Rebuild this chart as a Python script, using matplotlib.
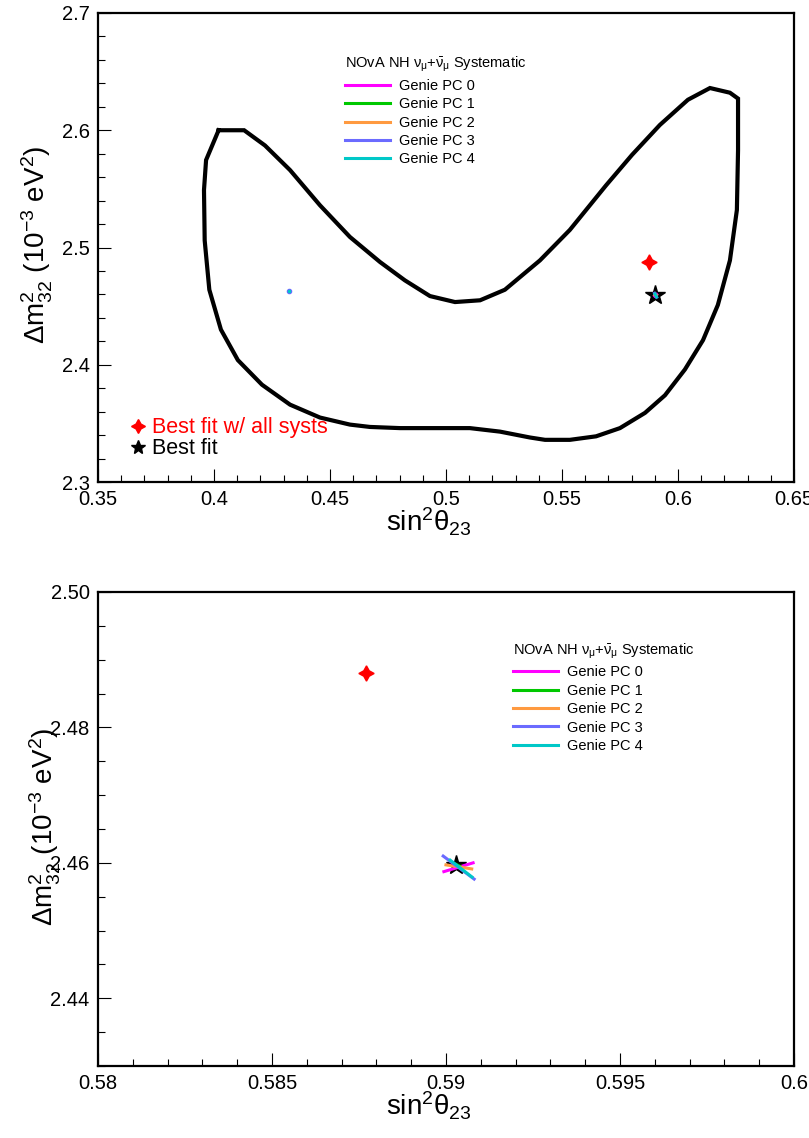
import matplotlib
matplotlib.use("Agg")
import matplotlib.pyplot as plt
from matplotlib.lines import Line2D
from matplotlib.ticker import MultipleLocator, FormatStrFormatter, FuncFormatter

plt.rcParams['font.family'] = ['Liberation Sans', 'DejaVu Sans']
plt.rcParams['mathtext.fontset'] = 'custom'
plt.rcParams['mathtext.rm'] = 'Liberation Sans'
plt.rcParams['mathtext.it'] = 'Liberation Sans'
plt.rcParams['mathtext.bf'] = 'Liberation Sans:bold'

# 90% contour, all systematics
contour_x = [0.402, 0.413, 0.422, 0.4328, 0.4457, 0.4586, 0.4716, 0.4823, 0.4931,
             0.5039, 0.5147, 0.5254, 0.5405, 0.5534, 0.569, 0.5802, 0.5922, 0.6043,
             0.6138, 0.6224, 0.6259, 0.6259, 0.6254, 0.6224, 0.6172, 0.6108, 0.603,
             0.5944, 0.5858, 0.575, 0.5647, 0.5534, 0.5427, 0.5362, 0.5233, 0.5103,
             0.5, 0.4802, 0.4672, 0.4586, 0.4457, 0.4328, 0.4207, 0.4103, 0.403,
             0.398, 0.396, 0.3957, 0.3966, 0.402]
contour_y = [2.600, 2.600, 2.587, 2.566, 2.536, 2.509, 2.4876, 2.472, 2.4586,
             2.4535, 2.455, 2.464, 2.489, 2.515, 2.553, 2.579, 2.6045, 2.626,
             2.636, 2.632, 2.627, 2.583, 2.532, 2.489, 2.451, 2.421, 2.396,
             2.374, 2.359, 2.346, 2.339, 2.336, 2.336, 2.338, 2.343, 2.346,
             2.346, 2.346, 2.347, 2.349, 2.355, 2.366, 2.383, 2.404, 2.430,
             2.464, 2.506, 2.549, 2.5746, 2.600]

best_fit_x, best_fit_y = 0.5903, 2.4597
syst_fit_x, syst_fit_y = 0.5877, 2.4880

# shifted best fits, -1 sigma to +1 sigma, per Genie PC
pc_labels = ['Genie PC 0', 'Genie PC 1', 'Genie PC 2', 'Genie PC 3', 'Genie PC 4']
pc_colors = ['#ff00ff', '#00c800', '#ff9a40', '#6b6bff', '#00c8c8']
pc_x = [[0.58994, 0.59078], [0.59028, 0.59040], [0.59000, 0.59074],
        [0.58992, 0.59081], [0.59012, 0.59075]]
pc_y = [[2.4587, 2.4600], [2.4598, 2.4595], [2.4597, 2.4591],
        [2.4610, 2.4576], [2.4604, 2.4579]]

# stray point from PC 3/4 in the other octant
stray_x, stray_y = 0.4323, 2.4625

legend_title = r'NOvA NH $\nu_{\mu}$+$\bar{\nu}_{\mu}$ Systematic'
xlabel = r'sin$^{2}$$\theta_{23}$'
ylabel = r'$\Delta$m$^{2}_{32}$ (10$^{-3}$ eV$^{2}$)'


def style_axes(ax):
    for s in ax.spines.values():
        s.set_linewidth(1.6)
    ax.tick_params(which='both', direction='in', top=False, right=False,
                   labelsize=14.5, width=0.8)
    ax.tick_params(which='major', length=9.5, pad=6)
    ax.tick_params(which='minor', length=5)
    ax.set_xlabel(xlabel, fontsize=20)
    ax.set_ylabel(ylabel, fontsize=20)


def draw(ax, legend_pos, with_fit_legend):
    ax.plot(contour_x, contour_y, color='black', lw=3, solid_joinstyle='miter')
    ax.plot(syst_fit_x, syst_fit_y, marker=(4, 1, 0), color='red', ms=11, ls='none')
    ax.plot(best_fit_x, best_fit_y, marker='*', color='black', ms=15, ls='none')
    for i in range(len(pc_labels)):
        ax.plot(pc_x[i], pc_y[i], color=pc_colors[i], lw=2.2, label=pc_labels[i])
    ax.plot(stray_x, stray_y, marker='o', color=pc_colors[3], ms=3, ls='none')
    ax.plot(stray_x, stray_y, marker='o', color=pc_colors[4], ms=1.5, ls='none')

    leg = ax.legend(loc='upper left', bbox_to_anchor=legend_pos, frameon=False,
                    title=legend_title, title_fontsize=10.5, fontsize=10.5,
                    alignment='left', handlelength=3.1, handletextpad=0.6,
                    labelspacing=0.3, borderpad=0, borderaxespad=0)
    if with_fit_legend:
        ax.add_artist(leg)
        handles = [Line2D([], [], marker=(4, 1, 0), color='red', ms=10, ls='none'),
                   Line2D([], [], marker='*', color='black', ms=10, ls='none')]
        ax.legend(handles, ['Best fit w/ all systs', 'Best fit'], loc='upper left',
                  bbox_to_anchor=(0.045, 0.138), frameon=False, fontsize=15.5,
                  labelcolor=['red', 'black'], handlelength=0.8, handletextpad=0.25,
                  labelspacing=0.0, borderpad=0, borderaxespad=0)


fig = plt.figure(figsize=(8.09, 11.38), dpi=100)
ax1 = fig.add_axes([0.1211, 0.5764, 0.8603, 0.4122])
ax2 = fig.add_axes([0.1211, 0.0633, 0.8603, 0.4165])

draw(ax1, (0.355, 0.91), True)
ax1.set_xlim(0.35, 0.65)
ax1.set_ylim(2.3, 2.7)
ax1.xaxis.set_major_locator(MultipleLocator(0.05))
ax1.xaxis.set_minor_locator(MultipleLocator(0.01))
ax1.yaxis.set_major_locator(MultipleLocator(0.1))
ax1.yaxis.set_minor_locator(MultipleLocator(0.02))
ax1.xaxis.set_major_formatter(FuncFormatter(lambda v, p: f'{v:g}'))
ax1.yaxis.set_major_formatter(FuncFormatter(lambda v, p: f'{v:g}'))
style_axes(ax1)
ax1.xaxis.set_label_coords(0.475, -0.05)
ax1.yaxis.set_label_coords(-0.062, 0.505)

draw(ax2, (0.596, 0.895), False)
ax2.set_xlim(0.58, 0.60)
ax2.set_ylim(2.43, 2.50)
ax2.xaxis.set_major_locator(MultipleLocator(0.005))
ax2.xaxis.set_minor_locator(MultipleLocator(0.001))
ax2.yaxis.set_major_locator(MultipleLocator(0.02))
ax2.yaxis.set_minor_locator(MultipleLocator(0.005))
ax2.xaxis.set_major_formatter(FuncFormatter(lambda v, p: f'{v:g}'))
ax2.yaxis.set_major_formatter(FormatStrFormatter('%.2f'))
style_axes(ax2)
ax2.xaxis.set_label_coords(0.475, -0.05)
ax2.yaxis.set_label_coords(-0.05, 0.505)

fig.savefig('out.png', dpi=100)
